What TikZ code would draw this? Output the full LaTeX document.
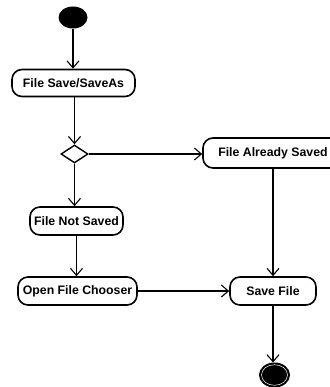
\documentclass[tikz,border=0pt]{standalone}
\usepackage{fontspec}
\setmainfont{Liberation Sans}
\usetikzlibrary{shapes.geometric,arrows.meta}
\begin{document}
\begin{tikzpicture}[x=1pt,y=-1pt,
  arr/.style={line width=1.1pt,-{Straight Barb[length=7pt,width=12pt,line width=1.1pt]}},
  action/.style={draw,line width=1.6pt,rounded corners=10pt,inner sep=0pt,
    font=\fontsize{12.3}{14}\selectfont\bfseries,minimum height=28pt},
  decision/.style={draw,diamond,line width=1.4pt,inner sep=0pt,
    minimum width=27pt,minimum height=18pt},
  initial/.style={ellipse,fill=black,inner sep=0pt,minimum width=29pt,minimum height=22pt},
  final/.style={ellipse,draw,line width=1pt,fill=black,inner sep=0pt,minimum width=30pt,minimum height=24pt}]
\useasboundingbox (0,0) rectangle (329,387);

\node[initial] (start) at (73,17.5) {};
\node[action,minimum width=123pt,minimum height=27pt] (saveas) at (73.5,83) {File Save/SaveAs};
\node[decision] (dec) at (74.5,154) {};
\node[action,minimum width=140pt,minimum height=30pt] (already) at (273,153) {File Already Saved};
\node[action,minimum width=93pt] (notsaved) at (76.5,221) {File Not Saved};
\node[action,minimum width=119pt] (chooser) at (77.5,291) {Open File Chooser};
\node[action,minimum width=86pt] (savefile) at (273,291) {Save File};
\node[final] (end) at (274.5,375) {};
\draw[line width=0.5pt,white] (end.center) ellipse (13pt and 10.3pt);

\draw[arr] (start.south) -- (start.south |- saveas.north);
\draw[arr] (saveas.south -| dec.north) -- (dec.north);
\draw[arr] (dec.east) -- (already.west |- dec.east);
\draw[arr] (dec.south) -- (dec.south |- notsaved.north);
\draw[arr] (notsaved.south) -- (notsaved.south |- chooser.north);
\draw[arr] (chooser.east) -- (savefile.west);
\draw[arr] (savefile.north |- already.south) -- (savefile.north);
\draw[arr] (savefile.south) -- (savefile.south |- end.north);
\end{tikzpicture}
\end{document}
